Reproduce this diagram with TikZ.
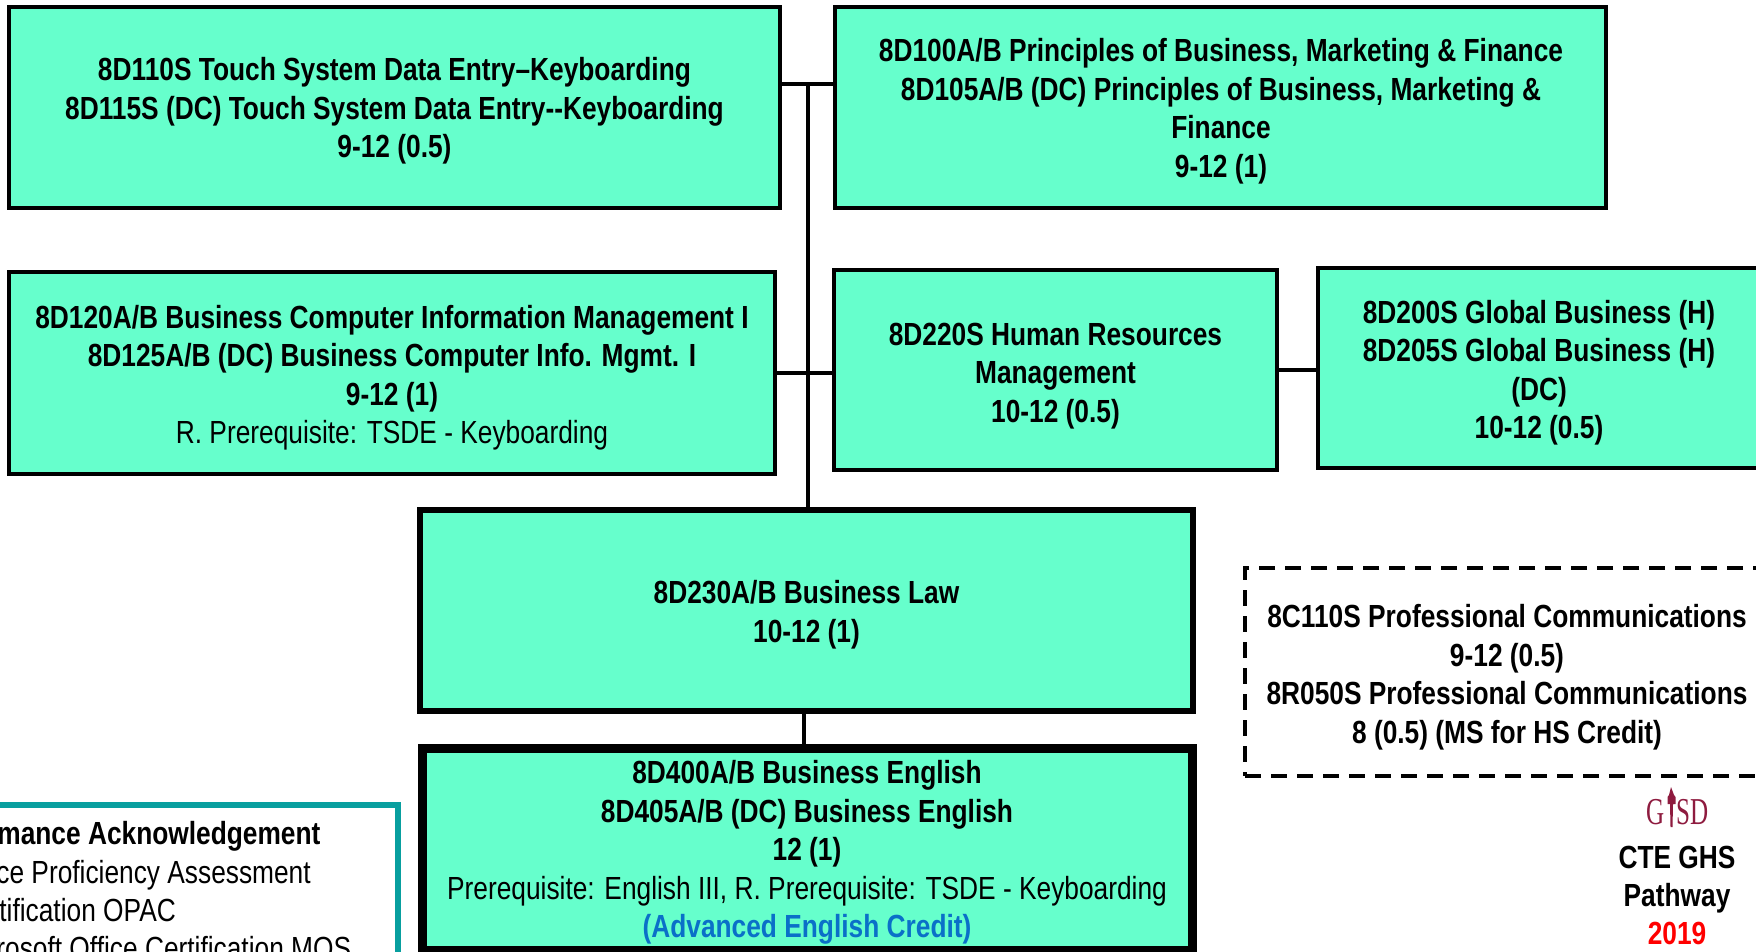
\documentclass[tikz,border=0pt]{standalone}
\usepackage{fontspec}
\setmainfont[FakeStretch=0.822]{Liberation Sans}
\newfontfamily\logofont[FakeStretch=0.66]{Liberation Serif}
\definecolor{boxfill}{HTML}{66FFCC}
\definecolor{legendteal}{HTML}{089F9F}
\definecolor{creditblue}{HTML}{0A70C8}
\definecolor{logored}{HTML}{8E1B3F}
\tikzset{
  txt/.style={align=center,font=\fontsize{16}{19.25}\selectfont\bfseries,inner sep=0pt},
  course/.style={draw=black,fill=boxfill,line width=1.8pt,inner sep=0pt},
  courseheavy/.style={course,line width=2.6pt},
  coursecap/.style={course,line width=4.5pt},
  link/.style={draw=black,line width=1.6pt},
  legendline/.style={anchor=base west,inner sep=0pt,font=\fontsize{16}{19.25}\selectfont},
  sideline/.style={anchor=base,inner sep=0pt,font=\fontsize{16}{19.25}\selectfont\bfseries},
}
\begin{document}
\begin{tikzpicture}[x=0.5pt,y=-0.5pt]
\useasboundingbox (0,0) rectangle (1756,952);
\clip (0,0) rectangle (1756,952);
\node[course,minimum width=385.5pt,minimum height=100.5pt] (a) at (394.5,107.5) {};
\node[course,minimum width=385.5pt,minimum height=100.5pt] (b) at (1220.5,107.5) {};
\node[course,minimum width=383pt,minimum height=101pt] (c) at (392,373) {};
\node[course,minimum width=221.5pt,minimum height=100pt] (d) at (1055.5,370) {};
\node[course,minimum width=221pt,minimum height=100pt] (e) at (1539,368) {};
\node[courseheavy,minimum width=386.5pt,minimum height=100.5pt] (f) at (806.5,610.5) {};
\node[coursecap,minimum width=385pt,minimum height=101pt] (g) at (807,849) {};
\node[draw=black,line width=1.6pt,dash pattern=on 8pt off 5pt,minimum width=300pt,minimum height=104pt,inner sep=0pt] (pc) at (1545,672) {};
\node[txt] (at) at (394.5,111) {8D110S Touch System Data Entry–Keyboarding\\8D115S (DC) Touch System Data Entry-{}-Keyboarding\\9-12 (0.5)};
\node[txt] (bt) at (1221,111) {8D100A/B Principles of Business, Marketing \& Finance\\8D105A/B (DC) Principles of Business, Marketing \&\\Finance\\9-12 (1)};
\node[txt] (ct) at (392,377.5) {8D120A/B Business Computer Information Management I\\8D125A/B (DC) Business Computer Info. Mgmt. I\\9-12 (1)\\\mdseries R. Prerequisite: TSDE - Keyboarding};
\node[txt] (dt) at (1055.5,376) {8D220S Human Resources\\Management\\10-12 (0.5)};
\node[txt] (et) at (1539,372.5) {8D200S Global Business (H)\\8D205S Global Business (H)\\(DC)\\10-12 (0.5)};
\node[txt] (ft) at (806.5,614.5) {8D230A/B Business Law\\10-12 (1)};
\node[txt] (gt) at (807,852.5) {8D400A/B Business English\\8D405A/B (DC) Business English\\12 (1)\\\mdseries Prerequisite: English III, R. Prerequisite: TSDE - Keyboarding\\\textcolor{creditblue}{(Advanced English Credit)}};
\node[txt] (pctext) at (1507,677) {8C110S Professional Communications\\9-12 (0.5)\\8R050S Professional Communications\\8 (0.5) (MS for HS Credit)};
\coordinate (j1) at (808,84);
\coordinate (j2) at (808,373);
\coordinate (j3) at (804,0);
\coordinate (j4) at (1300,370);
\path[link] (a.east |- j1) -- (b.west |- j1);
\path[link] (c.east |- j2) -- (d.west |- j2);
\path[link] (j1) -- (j1 |- f.north);
\path[link] (d.east |- j4) -- (e.west |- j4);
\path[link] (j3 |- f.south) -- (j3 |- g.north);
\node[draw=legendteal,fill=white,line width=3pt,minimum width=220pt,minimum height=120pt,inner sep=0pt] (leg) at (178,925) {};
\node[legendline,font=\fontsize{16}{19.25}\selectfont\bfseries] (l1) at (-3,844) {mance Acknowledgement};
\node[legendline] (l2) at (-4,883) {ce Proficiency Assessment};
\node[legendline] (l3) at (-1,921) {tification OPAC};
\node[legendline] (l4) at (-4,959) {rosoft Office Certification MOS};
\node[sideline] (cte) at (1677,868) {CTE GHS};
\node[sideline] (pw) at (1677,906) {Pathway};
\node[sideline,text=red] (yr) at (1677,944) {2019};
\node[anchor=base west,inner sep=0pt,text=logored,font=\logofont\fontsize{19}{19}\selectfont] (lg) at (1646,824) {G};
\node[anchor=base west,inner sep=0pt,text=logored,font=\logofont\fontsize{19}{19}\selectfont] (lsd) at (1676,824) {SD};
\fill[logored] (1671,787) -- (1669,795) -- (1667.5,797) -- (1667.5,804) -- (1670,804) -- (1670.5,827) -- (1672.5,827) -- (1673,804) -- (1675.5,804) -- (1675.5,797) -- (1674,795) -- cycle;
\end{tikzpicture}
\end{document}
